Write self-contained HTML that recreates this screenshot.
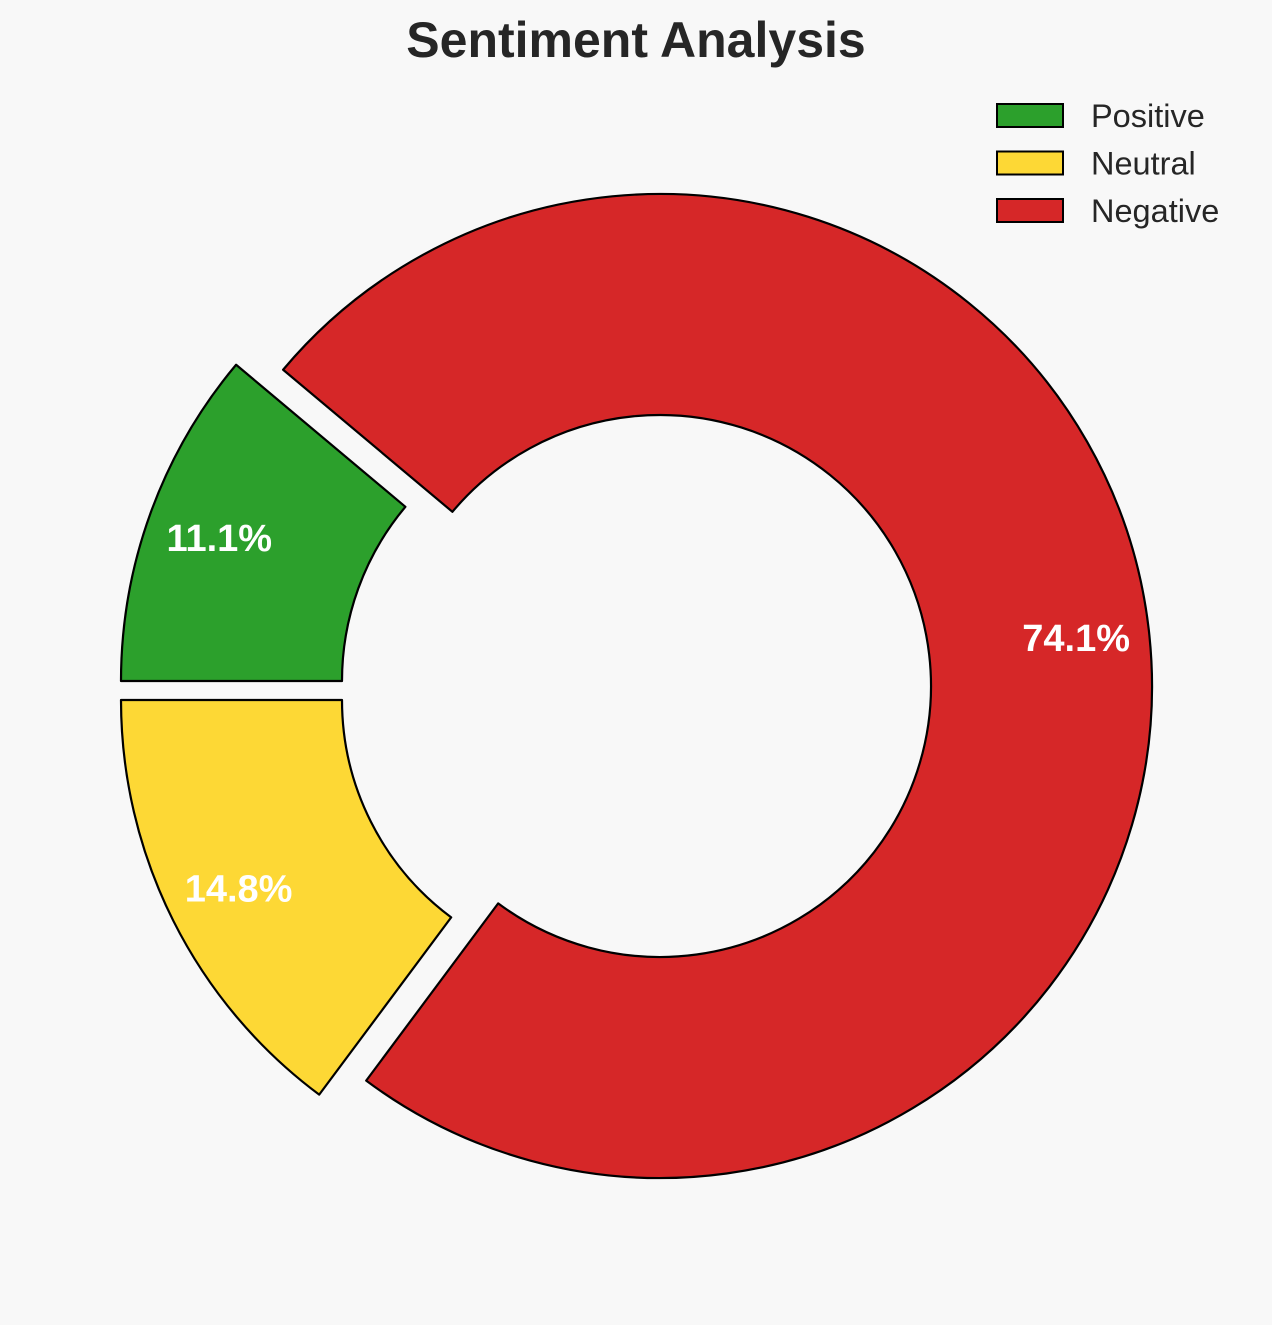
<!DOCTYPE html>
<html><head><meta charset="utf-8"><style>
html,body{margin:0;padding:0;background:#f8f8f8;}
svg{display:block;font-family:"Liberation Sans",Arial,sans-serif;}
</style></head><body>
<svg width="1272" height="1325" viewBox="0 0 1272 1325">
<rect width="1272" height="1325" fill="#f8f8f8"/>
<text x="636" y="57" text-anchor="middle" font-size="50" font-weight="bold" fill="#262626">Sentiment Analysis</text>
<g id="pie"></g>
<g id="legend"></g>
</svg>
<script>
const categories = ["Positive", "Neutral", "Negative"];
const values = [3, 4, 20];
const colors = ["#2ca02c", "#fdd835", "#d62728"];
const offsets = [[-47,-5],[-47,14],[0,0]];
const cx = 660, cy = 686, R = 492, r = 271, labelR = 419, startAngle = 140;
const ns = "http://www.w3.org/2000/svg";
const pie = document.getElementById("pie");
const total = values.reduce((a,b)=>a+b,0);
function pt(x,y,rad,deg){const a=deg*Math.PI/180;return [x+rad*Math.cos(a), y-rad*Math.sin(a)];}
let a0 = startAngle;
values.forEach((v,i)=>{
  const sweep = v/total*360, a1 = a0+sweep;
  const x = cx+offsets[i][0], y = cy+offsets[i][1];
  const large = sweep>180?1:0;
  const p1=pt(x,y,R,a0), p2=pt(x,y,R,a1), p3=pt(x,y,r,a1), p4=pt(x,y,r,a0);
  const d=`M${p1[0]},${p1[1]} A${R},${R} 0 ${large} 0 ${p2[0]},${p2[1]} L${p3[0]},${p3[1]} A${r},${r} 0 ${large} 1 ${p4[0]},${p4[1]} Z`;
  const path=document.createElementNS(ns,"path");
  path.setAttribute("d",d);path.setAttribute("fill",colors[i]);
  path.setAttribute("stroke","#000");path.setAttribute("stroke-width","2.2");path.setAttribute("stroke-linejoin","round");
  
  
  pie.appendChild(path);
  const lp=pt(x,y,labelR,(a0+a1)/2);
  const t=document.createElementNS(ns,"text");
  t.setAttribute("x",lp[0]);t.setAttribute("y",lp[1]+13.5);
  t.setAttribute("text-anchor","middle");t.setAttribute("font-size","38");
  t.setAttribute("font-weight","bold");t.setAttribute("fill","#fff");
  t.textContent=(v/total*100).toFixed(1)+"%";
  
  
  pie.appendChild(t);
  a0=a1;
});
const lg=document.getElementById("legend");
categories.forEach((c,i)=>{
  const y=116+i*47.5;
  const rc=document.createElementNS(ns,"rect");
  rc.setAttribute("x",997);rc.setAttribute("y",y-12);rc.setAttribute("width",66);rc.setAttribute("height",23);
  rc.setAttribute("fill",colors[i]);rc.setAttribute("stroke","#000");rc.setAttribute("stroke-width","2");
  
  
  lg.appendChild(rc);
  const t=document.createElementNS(ns,"text");
  t.setAttribute("x",1091);t.setAttribute("y",y+11);t.setAttribute("font-size","32.5");t.setAttribute("fill","#262626");
  t.textContent=c;
  
  
  lg.appendChild(t);
});
</script>
</body></html>
